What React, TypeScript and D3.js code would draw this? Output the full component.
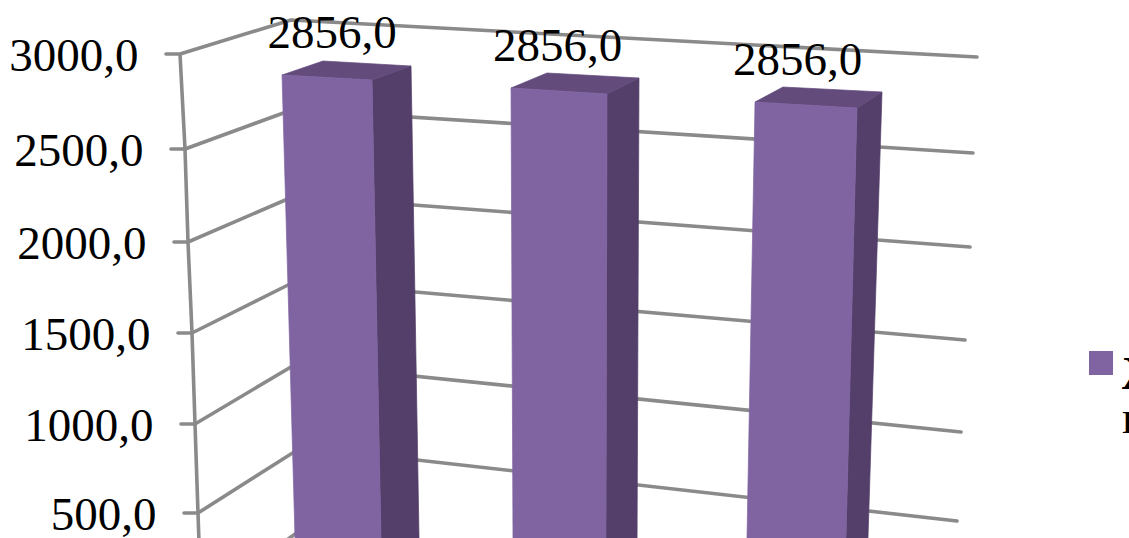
import React from "react";
import * as d3 from "d3";

// ---- data ----
const categories = ["A", "B", "C"];
const seriesValues = [2856, 2856, 2856];
const valueLabels = ["2856,0", "2856,0", "2856,0"];
const tickValues = [0, 500, 1000, 1500, 2000, 2500, 3000];
const tickLabels = ["", "500,0", "1000,0", "1500,0", "2000,0", "2500,0", "3000,0"];
const legendLines = ["Жилая", "площадь"];

// ---- 3D frame: how each value level projects on the walls ----
const W = 1129;
const H = 538;
const leftX = d3.scaleLinear(tickValues, [201, 198, 195, 192, 188, 185, 180]);
const leftY = d3.scaleLinear(tickValues, [601, 513, 424, 333, 242, 149, 54]);
const cornerX = d3.scaleLinear(tickValues, [305, 302, 296, 295, 294.6, 293, 291]);
const cornerY = d3.scaleLinear(tickValues, [527, 447, 364, 281.5, 196, 109.5, 20]);
const rightX = d3.scaleLinear(tickValues, [954, 957, 961, 965, 970, 973, 977]);
const rightY = d3.scaleLinear(tickValues, [608, 521, 432, 340, 247, 153, 57]);

// projection of each bar corner at value 0 and value 3000, per column
type P = [number, number];
const barFrame: Record<string, { low: P[]; high: P[] }> = {
  fl: {
    low: [[296.7, 597.6], [513.3, 610.6], [745.4, 624.6]],
    high: [[281.3, 48.65], [510.9, 61.65], [755.5, 75.65]],
  },
  fr: {
    low: [[382.3, 602.6], [605.8, 616.6], [843.6, 630.6]],
    high: [[371.5, 53.65], [607.06, 67.65], [857.7, 81.65]],
  },
  bl: {
    low: [[333, 560.8], [547, 572.8], [773, 586.8]],
    high: [[322.5, 35.8], [547, 47.8], [783.5, 61.8]],
  },
  br: {
    low: [[419.5, 565.8], [636.9, 577.8], [866.3, 591.8]],
    high: [[410.6, 40.8], [639.1, 52.8], [882.8, 66.8]],
  },
};
const column = d3.scaleOrdinal<string, number>(categories, [0, 1, 2]);
const valueT = d3.scaleLinear([0, 3000], [0, 1]);
const project = (key: string, cat: string, v: number): P => {
  const c = column(cat);
  const f = barFrame[key];
  const t = valueT(v);
  return [
    d3.interpolateNumber(f.low[c][0], f.high[c][0])(t),
    d3.interpolateNumber(f.low[c][1], f.high[c][1])(t),
  ];
};
const labelX = d3.scaleOrdinal<string, number>(categories, [332, 557.5, 797.5]);

const poly = d3.line<P>();
const closed = (pts: P[]) => poly(pts) + "Z";

const GRID = "#8a8a8a";
const FRONT = "#8064A2";
const TOP = "#634B7C";
const SIDE = "#533F69";
const SERIF = "'Liberation Serif', serif";
const FONT_SIZE = 47;

export default function App() {
  return (
    <svg
      width={W}
      height={H}
      viewBox={`0 0 ${W} ${H}`}
      style={{ position: "absolute", left: 0, top: 0, background: "#fff" }}
    >
      {/* axis line */}
      <path
        d={poly(tickValues.map((v) => [leftX(v), leftY(v)] as P)) ?? ""}
        fill="none"
        stroke={GRID}
        strokeWidth={3.6}
      />
      {/* gridlines and ticks */}
      {tickValues.map((v) => (
        <path
          key={v}
          d={poly([
            [leftX(v) - 14, leftY(v)],
            [leftX(v), leftY(v)],
            [cornerX(v), cornerY(v)],
            [rightX(v), rightY(v)],
          ]) ?? ""}
          fill="none"
          stroke={GRID}
          strokeWidth={3.6}
          strokeLinejoin="round"
          strokeLinecap="round"
        />
      ))}
      {/* tick labels */}
      {tickValues.map((v, i) =>
        tickLabels[i] ? (
          <text
            key={v}
            x={leftX(v) - 41.5}
            y={leftY(v) + 17}
            textAnchor="end"
            fontFamily={SERIF}
            fontSize={FONT_SIZE}
            fill="#000"
          >
            {tickLabels[i]}
          </text>
        ) : null
      )}
      {/* bars */}
      {categories.map((cat, i) => {
        const v = seriesValues[i];
        const top = (k: string) => project(k, cat, v);
        const floor = (k: string) => project(k, cat, 0);
        return (
          <g key={cat} strokeWidth={0.7} strokeLinejoin="round">
            <path d={closed([top("fr"), top("br"), floor("br"), floor("fr")])} fill={SIDE} stroke={SIDE} />
            <path d={closed([top("fl"), top("bl"), top("br"), top("fr")])} fill={TOP} stroke={TOP} />
            <path d={closed([top("fl"), top("fr"), floor("fr"), floor("fl")])} fill={FRONT} stroke={FRONT} />
          </g>
        );
      })}
      {/* data labels */}
      {categories.map((cat, i) => {
        const a = project("fl", cat, seriesValues[i]);
        const b = project("fr", cat, seriesValues[i]);
        return (
          <text
            key={cat}
            x={labelX(cat)}
            y={(a[1] + b[1]) / 2 - 29.5}
            textAnchor="middle"
            fontFamily={SERIF}
            fontSize={FONT_SIZE}
            fill="#000"
          >
            {valueLabels[i]}
          </text>
        );
      })}
      {/* legend */}
      <rect x={1089} y={351} width={24} height={24} fill={FRONT} />
      {legendLines.map((t, i) => (
        <text
          key={t}
          x={1122}
          y={389 + i * 44}
          fontFamily={SERIF}
          fontSize={FONT_SIZE}
          fontWeight={i === 0 ? "bold" : "normal"}
          fill="#000"
        >
          {t}
        </text>
      ))}
    </svg>
  );
}
